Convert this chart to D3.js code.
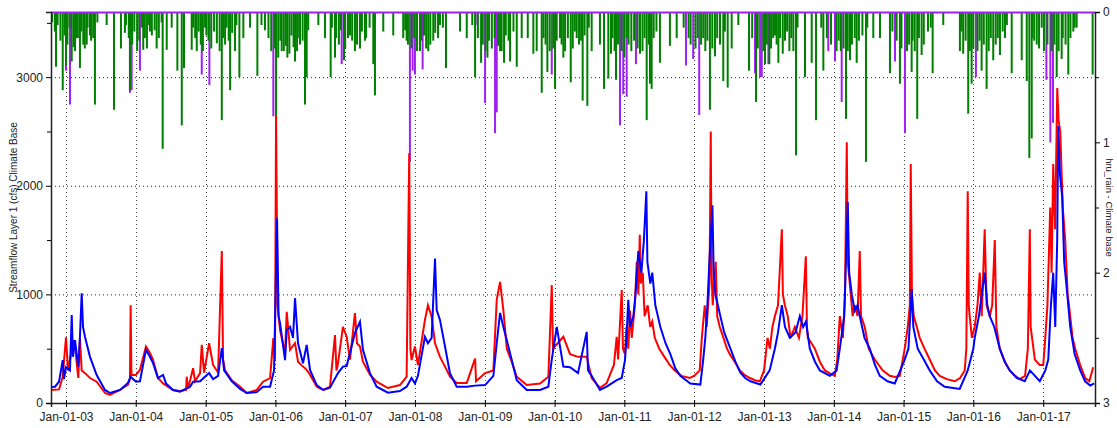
<!DOCTYPE html>
<html>
<head>
<meta charset="utf-8">
<script src="https://cdn.jsdelivr.net/npm/d3@7"></script>
<style>
  body { margin: 0; background: #fff; }
  svg text { font-family: "Liberation Sans", Arial, sans-serif; }
</style>
</head>
<body>
<div id="chart"></div>
<script>
// time is stored as decimal years
var xDomain = [2002.785, 2017.742];
var yearTicks = [2003, 2004, 2005, 2006, 2007, 2008, 2009, 2010, 2011, 2012, 2013, 2014, 2015, 2016, 2017];
var flowTicks = [0, 1000, 2000, 3000];
var rainTicks = [0, 1, 2, 3];

// Streamflow, red series
var redFlow = [
  [2002.785,120],[2002.90,125],[2002.953,240],[2003.0,605],[2003.03,300],[2003.082,490],[2003.10,580],
  [2003.129,520],[2003.176,230],[2003.2,595],[2003.225,300],[2003.272,275],[2003.344,230],[2003.44,196],
  [2003.559,92],[2003.63,75],[2003.774,120],[2003.888,170],[2003.917,220],[2003.927,900],[2003.938,260],
  [2004.003,258],[2004.06,305],[2004.146,520],[2004.203,460],[2004.246,400],[2004.318,230],[2004.39,180],
  [2004.533,120],[2004.633,110],[2004.719,120],[2004.729,242],[2004.748,130],[2004.82,320],[2004.848,200],
  [2004.92,275],[2004.944,535],[2004.977,280],[2005.049,550],[2005.106,350],[2005.178,280],[2005.231,1400],
  [2005.249,400],[2005.278,300],[2005.374,210],[2005.493,150],[2005.589,92],[2005.732,120],[2005.822,196],
  [2005.923,230],[2005.97,598],[2005.994,400],[2006.009,2650],[2006.03,900],[2006.066,670],[2006.138,460],
  [2006.162,840],[2006.209,490],[2006.281,550],[2006.324,380],[2006.395,335],[2006.448,305],[2006.496,260],
  [2006.592,150],[2006.686,120],[2006.782,150],[2006.854,625],[2006.875,300],[2006.897,365],[2006.968,700],
  [2007.021,610],[2007.069,400],[2007.14,828],[2007.169,550],[2007.212,520],[2007.255,380],[2007.355,260],
  [2007.451,196],[2007.613,138],[2007.785,165],[2007.881,242],[2007.918,2300],[2007.935,500],[2007.952,395],
  [2008.0,520],[2008.043,350],[2008.143,765],[2008.186,900],[2008.239,795],[2008.287,550],[2008.358,425],
  [2008.43,335],[2008.501,242],[2008.597,184],[2008.741,185],[2008.86,410],[2008.874,200],[2009.003,275],
  [2009.122,300],[2009.17,950],[2009.218,1115],[2009.265,855],[2009.314,500],[2009.385,380],[2009.457,242],
  [2009.60,165],[2009.791,180],[2009.91,242],[2009.959,1085],[2009.977,500],[2010.125,610],[2010.221,450],
  [2010.335,425],[2010.46,425],[2010.531,230],[2010.65,138],[2010.746,184],[2010.85,350],[2010.89,610],
  [2010.91,400],[2010.962,1040],[2010.98,500],[2011.009,450],[2011.03,700],[2011.056,500],[2011.08,850],
  [2011.106,600],[2011.15,900],[2011.178,1300],[2011.2,1000],[2011.221,1550],[2011.235,1100],[2011.264,1200],
  [2011.29,800],[2011.335,900],[2011.37,700],[2011.40,750],[2011.436,600],[2011.5,500],[2011.579,420],
  [2011.65,350],[2011.722,300],[2011.82,250],[2011.937,230],[2012.0,250],[2012.08,300],[2012.11,600],
  [2012.152,900],[2012.18,700],[2012.22,1100],[2012.238,2500],[2012.25,1200],[2012.266,900],[2012.309,1300],
  [2012.33,800],[2012.367,700],[2012.42,600],[2012.47,500],[2012.51,450],[2012.58,380],[2012.653,300],
  [2012.72,260],[2012.797,230],[2012.87,210],[2012.94,200],[2013.0,300],[2013.05,600],[2013.083,500],
  [2013.12,700],[2013.155,800],[2013.2,900],[2013.255,1600],[2013.27,1000],[2013.298,900],[2013.34,800],
  [2013.38,600],[2013.441,700],[2013.5,600],[2013.55,800],[2013.599,1350],[2013.615,700],[2013.628,600],
  [2013.68,550],[2013.728,500],[2013.8,380],[2013.871,300],[2013.95,270],[2014.014,250],[2014.05,400],
  [2014.086,800],[2014.13,600],[2014.16,1000],[2014.186,2400],[2014.2,1300],[2014.229,1100],[2014.27,800],
  [2014.301,900],[2014.34,800],[2014.372,1400],[2014.39,800],[2014.444,700],[2014.5,500],[2014.587,400],
  [2014.7,300],[2014.802,250],[2014.88,240],[2014.946,250],[2015.017,500],[2015.06,700],[2015.09,900],
  [2015.103,2200],[2015.12,1000],[2015.146,800],[2015.19,700],[2015.232,600],[2015.3,500],[2015.375,400],
  [2015.45,300],[2015.519,250],[2015.62,220],[2015.734,200],[2015.81,230],[2015.877,300],[2015.9,500],
  [2015.92,1950],[2015.935,900],[2015.948,800],[2015.98,600],[2016.02,700],[2016.06,900],[2016.092,1200],
  [2016.12,800],[2016.163,1600],[2016.19,900],[2016.235,800],[2016.27,900],[2016.307,1500],[2016.33,700],
  [2016.378,500],[2016.45,380],[2016.521,300],[2016.6,250],[2016.665,220],[2016.74,250],[2016.78,500],
  [2016.808,1600],[2016.82,700],[2016.88,400],[2016.95,350],[2017.0,350],[2017.029,600],[2017.06,900],
  [2017.1,1800],[2017.12,1200],[2017.143,2200],[2017.17,1600],[2017.201,2900],[2017.22,2600],[2017.244,2500],
  [2017.28,1800],[2017.315,1500],[2017.35,1000],[2017.387,800],[2017.42,600],[2017.458,500],[2017.53,350],
  [2017.602,230],[2017.66,200],[2017.716,330]
];

// Streamflow, blue series
var blueFlow = [
  [2002.785,147],[2002.842,150],[2002.9,196],[2002.953,395],[2002.971,220],[2003.0,330],[2003.057,300],
  [2003.082,810],[2003.10,425],[2003.129,580],[2003.176,335],[2003.2,610],[2003.225,1010],[2003.244,700],
  [2003.272,610],[2003.344,425],[2003.44,258],[2003.559,120],[2003.63,92],[2003.774,120],[2003.888,184],
  [2003.927,242],[2004.003,196],[2004.06,200],[2004.146,490],[2004.203,425],[2004.246,370],[2004.318,230],
  [2004.39,258],[2004.433,180],[2004.533,120],[2004.633,104],[2004.777,150],[2004.82,196],[2004.92,200],
  [2005.049,275],[2005.106,220],[2005.178,250],[2005.231,505],[2005.264,300],[2005.374,200],[2005.493,130],
  [2005.589,92],[2005.732,100],[2005.822,150],[2005.923,150],[2005.98,300],[2006.023,1700],[2006.045,800],
  [2006.066,735],[2006.138,395],[2006.162,670],[2006.209,700],[2006.252,600],[2006.281,965],[2006.324,550],
  [2006.395,365],[2006.448,535],[2006.496,305],[2006.592,165],[2006.686,120],[2006.782,140],[2006.897,275],
  [2006.968,335],[2007.021,340],[2007.14,645],[2007.212,748],[2007.255,490],[2007.355,275],[2007.451,150],
  [2007.613,95],[2007.785,110],[2007.881,150],[2007.952,230],[2008.0,180],[2008.043,250],[2008.143,610],
  [2008.186,550],[2008.239,600],[2008.287,1330],[2008.311,855],[2008.358,765],[2008.43,520],[2008.501,275],
  [2008.597,150],[2008.741,150],[2008.86,160],[2009.003,165],[2009.122,250],[2009.17,550],[2009.218,830],
  [2009.265,700],[2009.314,580],[2009.385,395],[2009.457,210],[2009.60,120],[2009.791,120],[2009.91,150],
  [2009.959,400],[2010.031,700],[2010.125,335],[2010.221,330],[2010.335,275],[2010.46,655],[2010.479,300],
  [2010.531,250],[2010.65,120],[2010.746,150],[2010.89,210],[2010.962,230],[2011.009,395],[2011.03,600],
  [2011.056,950],[2011.08,700],[2011.129,800],[2011.16,1000],[2011.2,1400],[2011.244,1200],[2011.28,1500],
  [2011.315,1950],[2011.33,1300],[2011.372,1100],[2011.40,1200],[2011.444,900],[2011.48,800],[2011.516,700],
  [2011.59,550],[2011.659,450],[2011.73,320],[2011.802,250],[2011.946,180],[2012.089,170],[2012.13,400],
  [2012.16,600],[2012.19,900],[2012.218,1300],[2012.261,1820],[2012.28,1200],[2012.304,1000],[2012.34,900],
  [2012.375,800],[2012.43,650],[2012.519,500],[2012.59,380],[2012.662,280],[2012.73,230],[2012.805,200],
  [2012.948,170],[2013.08,300],[2013.155,500],[2013.2,650],[2013.255,900],[2013.3,700],[2013.37,600],
  [2013.45,650],[2013.513,800],[2013.56,700],[2013.6,750],[2013.656,500],[2013.73,380],[2013.8,300],
  [2013.943,250],[2014.04,300],[2014.086,500],[2014.15,800],[2014.2,1850],[2014.22,1200],[2014.258,1000],
  [2014.3,850],[2014.34,900],[2014.372,800],[2014.44,600],[2014.516,500],[2014.59,350],[2014.659,250],
  [2014.77,200],[2014.874,180],[2015.017,400],[2015.07,500],[2015.117,1050],[2015.14,700],[2015.203,500],
  [2015.29,400],[2015.375,300],[2015.48,200],[2015.59,150],[2015.805,130],[2015.92,300],[2016.0,500],
  [2016.02,600],[2016.08,800],[2016.163,1200],[2016.2,900],[2016.235,800],[2016.3,700],[2016.378,500],
  [2016.45,380],[2016.521,300],[2016.62,230],[2016.736,200],[2016.81,300],[2016.951,200],[2017.03,300],
  [2017.072,400],[2017.11,900],[2017.143,1200],[2017.172,700],[2017.2,1500],[2017.215,2550],[2017.24,2100],
  [2017.272,1900],[2017.3,1300],[2017.33,1100],[2017.387,700],[2017.45,450],[2017.53,300],[2017.6,200],
  [2017.673,160],[2017.73,180]
];

// hru_rain, green series (bars hanging from the top): the deeper single bars
var greenRain = [
  [2002.857,0.42],[2002.953,0.60],[2003.0,0.41],[2003.082,0.38],[2003.153,0.2],[2003.2,0.43],[2003.248,0.25],
  [2003.297,0.25],[2003.344,0.18],[2003.415,0.71],[2003.583,0.1],[2003.688,0.75],[2003.788,0.28],[2003.845,0.16],
  [2003.917,0.60],[2004.107,0.29],[2004.203,0.15],[2004.299,0.28],[2004.385,1.05],[2004.443,0.29],[2004.514,0.12],
  [2004.595,0.45],[2004.658,0.87],[2004.69,0.43],[2004.80,0.29],[2004.872,0.3],[2004.991,0.12],[2005.231,0.83],
  [2005.278,0.25],[2005.35,0.6],[2005.421,0.3],[2005.483,0.5],[2005.54,0.2],[2005.636,0.12],[2005.741,0.49],
  [2006.009,0.82],[2006.09,0.3],[2006.171,0.35],[2006.281,0.38],[2006.352,0.25],[2006.424,0.71],[2006.448,0.5],
  [2006.615,0.1],[2006.711,0.2],[2006.792,0.5],[2006.854,0.35],[2006.983,0.37],[2007.069,0.18],[2007.14,0.3],
  [2007.212,0.28],[2007.284,0.22],[2007.403,0.4],[2007.427,0.64],[2007.546,0.15],[2007.689,0.18],[2007.832,0.2],
  [2007.881,0.22],[2008.072,0.3],[2008.19,0.3],[2008.262,0.22],[2008.358,0.1],[2008.444,0.43],[2008.645,0.15],
  [2008.741,0.2],[2008.86,0.5],[2008.946,0.39],[2009.037,0.35],[2009.218,0.3],[2009.275,0.39],[2009.361,0.38],
  [2009.457,0.42],[2009.528,0.2],[2009.615,0.2],[2009.695,0.32],[2009.743,0.3],[2009.815,0.62],[2009.896,0.46],
  [2010.006,0.59],[2010.077,0.2],[2010.125,0.35],[2010.231,0.54],[2010.317,0.2],[2010.402,0.68],[2010.469,0.72],
  [2010.531,0.3],[2010.65,0.25],[2010.708,0.59],[2010.77,0.51],[2010.808,0.32],[2010.88,0.52],[2011.033,0.2],
  [2011.224,0.32],[2011.32,0.83],[2011.367,0.55],[2011.391,0.59],[2011.51,0.39],[2011.653,0.26],[2011.75,0.2],
  [2012.131,0.2],[2012.226,0.75],[2012.298,0.34],[2012.417,0.53],[2012.48,0.58],[2012.537,0.28],[2012.632,0.1],
  [2012.785,0.45],[2012.885,0.69],[2013.014,0.4],[2013.076,0.4],[2013.157,0.18],[2013.205,0.39],[2013.268,0.32],
  [2013.363,0.3],[2013.42,0.3],[2013.458,1.1],[2013.587,0.5],[2013.683,0.39],[2013.745,0.83],[2013.85,0.45],
  [2014.175,0.82],[2014.232,0.37],[2014.328,0.39],[2014.461,1.15],[2014.566,0.2],[2014.662,0.2],[2014.805,0.47],
  [2014.948,0.55],[2015.116,0.46],[2015.196,0.82],[2015.259,0.33],[2015.417,0.47],[2015.569,0.1],[2015.808,0.3],
  [2015.855,0.32],[2015.927,0.78],[2015.976,0.55],[2016.119,0.45],[2016.19,0.59],[2016.285,0.37],[2016.381,0.33],
  [2016.453,0.2],[2016.549,0.47],[2016.692,0.37],[2016.764,0.53],[2016.801,1.12],[2016.835,0.97],[2016.907,0.25],
  [2016.978,0.12],[2017.193,0.5],[2017.264,0.36],[2017.359,0.48],[2017.431,0.15],[2017.479,0.12],[2017.708,0.48]
];

// hru_rain, green series: the shallow dense bars of each wet season
var greenRainWet = [
  [2002.80,0.08],[2002.84,0.15],[2002.88,0.1],[2002.92,0.22],[2002.98,0.18],[2003.02,0.25],[2003.05,0.12],
  [2003.11,0.27],[2003.13,0.3],[2003.17,0.2],[2003.22,0.15],[2003.27,0.28],[2003.31,0.12],[2003.36,0.22],
  [2003.39,0.2],[2003.45,0.08],
  [2003.86,0.1],[2003.90,0.2],[2003.95,0.25],[2003.98,0.15],[2004.02,0.3],[2004.05,0.22],[2004.09,0.12],
  [2004.13,0.2],[2004.16,0.28],[2004.19,0.1],[2004.23,0.18],[2004.27,0.14],[2004.33,0.2],[2004.37,0.08],
  [2004.82,0.12],[2004.85,0.2],[2004.9,0.15],[2004.93,0.25],[2004.96,0.3],[2005.01,0.18],[2005.04,0.22],
  [2005.08,0.28],[2005.12,0.15],[2005.16,0.24],[2005.2,0.3],[2005.25,0.2],[2005.3,0.12],[2005.33,0.22],
  [2005.38,0.16],[2005.44,0.1],
  [2005.80,0.1],[2005.85,0.14],[2005.9,0.2],[2005.94,0.3],[2005.99,0.28],[2006.04,0.35],[2006.07,0.22],
  [2006.12,0.3],[2006.15,0.26],[2006.2,0.32],[2006.23,0.18],[2006.26,0.27],[2006.31,0.3],[2006.34,0.2],
  [2006.39,0.22],[2006.47,0.14],
  [2006.81,0.12],[2006.87,0.2],[2006.91,0.25],[2006.94,0.14],[2007.0,0.28],[2007.04,0.2],[2007.1,0.22],
  [2007.17,0.25],[2007.24,0.15],[2007.3,0.2],[2007.35,0.12],
  [2007.86,0.14],[2007.9,0.25],[2007.95,0.28],[2007.99,0.2],[2008.03,0.3],[2008.09,0.22],[2008.13,0.18],
  [2008.16,0.28],[2008.22,0.25],[2008.29,0.16],[2008.33,0.2],[2008.4,0.12],
  [2008.82,0.1],[2008.9,0.2],[2008.97,0.25],[2009.01,0.3],[2009.06,0.22],[2009.1,0.28],[2009.14,0.2],
  [2009.19,0.26],[2009.24,0.3],[2009.3,0.18],[2009.34,0.22],[2009.41,0.15],
  [2009.84,0.2],[2009.87,0.25],[2009.93,0.3],[2009.98,0.28],[2010.03,0.22],[2010.1,0.25],[2010.15,0.3],
  [2010.19,0.2],[2010.26,0.28],[2010.29,0.15],[2010.35,0.25],[2010.38,0.22],[2010.43,0.18],[2010.49,0.12],
  [2010.83,0.2],[2010.86,0.3],[2010.91,0.25],[2010.96,0.3],[2011.0,0.35],[2011.06,0.25],[2011.1,0.3],
  [2011.14,0.22],[2011.19,0.28],[2011.26,0.3],[2011.29,0.2],[2011.35,0.25],[2011.42,0.2],[2011.46,0.15],
  [2011.85,0.12],[2011.92,0.2],[2011.95,0.25],[2012.02,0.28],[2012.05,0.2],[2012.1,0.25],[2012.16,0.3],
  [2012.19,0.22],[2012.26,0.28],[2012.33,0.2],[2012.37,0.25],[2012.44,0.15],
  [2012.83,0.2],[2012.91,0.28],[2012.99,0.3],[2013.04,0.25],[2013.1,0.28],[2013.13,0.2],[2013.18,0.25],
  [2013.23,0.2],[2013.3,0.22],[2013.33,0.15],[2013.39,0.2],[2013.48,0.12],
  [2013.82,0.12],[2013.9,0.2],[2013.96,0.25],[2014.04,0.3],[2014.07,0.22],[2014.1,0.3],[2014.14,0.28],
  [2014.2,0.3],[2014.26,0.25],[2014.3,0.2],[2014.36,0.22],[2014.41,0.18],[2014.48,0.12],
  [2014.84,0.15],[2014.9,0.22],[2014.97,0.28],[2015.05,0.3],[2015.08,0.25],[2015.13,0.22],[2015.16,0.3],
  [2015.22,0.2],[2015.29,0.25],[2015.35,0.15],[2015.39,0.12],
  [2015.83,0.15],[2015.89,0.22],[2015.95,0.3],[2016.0,0.28],[2016.06,0.3],[2016.09,0.22],[2016.15,0.25],
  [2016.22,0.3],[2016.25,0.2],[2016.32,0.25],[2016.35,0.2],[2016.42,0.15],[2016.48,0.1],
  [2016.84,0.2],[2016.87,0.22],[2016.94,0.28],[2017.01,0.3],[2017.06,0.25],[2017.12,0.3],[2017.16,0.25],
  [2017.22,0.3],[2017.28,0.2],[2017.32,0.25],[2017.39,0.2],[2017.45,0.12]
];

// hru_rain, purple series
var purpleRain = [
  [2003.0,0.45],[2003.057,0.71],[2003.917,0.62],[2003.941,0.6],[2004.06,0.45],[2004.944,0.48],[2005.053,0.56],
  [2005.97,0.80],[2006.95,0.4],[2007.928,1.15],[2007.967,0.45],[2008.0,0.48],[2008.11,0.44],[2008.893,0.1],
  [2009.003,0.7],[2009.146,0.93],[2009.17,0.77],[2009.959,0.48],[2010.937,0.87],[2010.984,0.63],[2011.033,0.65],
  [2011.166,0.4],[2011.883,0.41],[2011.987,0.36],[2012.073,0.79],[2012.871,0.47],[2012.943,0.5],[2012.967,0.5],
  [2013.014,0.4],[2013.062,0.4],[2013.921,0.3],[2014.017,0.38],[2014.113,0.69],[2014.877,0.38],[2015.02,0.93],
  [2016.037,0.5],[2017.045,0.52],[2017.102,1.0],[2017.14,0.85]
];

var W = 1117, H = 428;
var margin = {top: 12, right: 22, bottom: 25, left: 51};
var width = W - margin.left - margin.right;
var height = H - margin.top - margin.bottom;

function toDate(t) {
  var y = Math.floor(t);
  var a = Date.UTC(y, 0, 1), b = Date.UTC(y + 1, 0, 1);
  return new Date(a + (t - y) * (b - a));
}

var x = d3.scaleUtc().domain(xDomain.map(toDate)).range([0, width]);
var yFlow = d3.scaleLinear().domain([0, 3600]).range([height, 0]);
var yRain = d3.scaleLinear().domain([0, 3]).range([0, height]);

var svg = d3.select("#chart").append("svg")
  .attr("width", W).attr("height", H);
var g = svg.append("g")
  .attr("transform", "translate(" + margin.left + "," + margin.top + ")");

// dotted grid
g.selectAll(".hgrid").data(flowTicks.slice(1)).enter()
  .append("line")
  .attr("x1", 0).attr("x2", width)
  .attr("y1", function(d){ return yFlow(d) + 0.5; })
  .attr("y2", function(d){ return yFlow(d) + 0.5; })
  .attr("stroke", "#222").attr("stroke-dasharray", "1,3");
g.selectAll(".vgrid").data(yearTicks).enter()
  .append("line")
  .attr("x1", function(d){ return Math.round(x(toDate(d))) + 0.5; })
  .attr("x2", function(d){ return Math.round(x(toDate(d))) + 0.5; })
  .attr("y1", 0).attr("y2", height)
  .attr("stroke", "#444").attr("stroke-dasharray", "1,3");

// rain bars
function bars(data, color) {
  g.append("g").selectAll("rect").data(data).enter()
    .append("rect")
    .attr("x", function(d){ return x(toDate(d[0])) - 1; })
    .attr("y", 0)
    .attr("width", 2)
    .attr("height", function(d){ return yRain(d[1]); })
    .attr("fill", color);
}
bars(purpleRain, "#a020f0");
bars(greenRain, "#008000");
bars(greenRainWet, "#008000");
g.append("line")
  .attr("x1", 0).attr("x2", width).attr("y1", 0.5).attr("y2", 0.5)
  .attr("stroke", "#a020f0").attr("stroke-width", 2);

// flow lines
var line = d3.line()
  .x(function(d){ return x(toDate(d[0])); })
  .y(function(d){ return yFlow(d[1]); });
g.append("path").datum(redFlow).attr("d", line)
  .attr("fill", "none").attr("stroke", "#ff0000").attr("stroke-width", 2);
g.append("path").datum(blueFlow).attr("d", line)
  .attr("fill", "none").attr("stroke", "#0000ff").attr("stroke-width", 2);

// axes
var leftAxis = d3.axisLeft(yFlow).tickValues(flowTicks).tickSize(5).tickFormat(d3.format("d"));
var leftMinor = d3.axisLeft(yFlow).tickValues([500, 1500, 2500, 3500]).tickSize(4).tickFormat("");
var la = g.append("g").call(leftAxis);
g.append("g").call(leftMinor).select(".domain").remove();

var rightAxis = d3.axisRight(yRain).tickValues(rainTicks).tickSize(5).tickFormat(d3.format("d"));
var rightMinor = d3.axisRight(yRain).tickValues([0.5, 1.5, 2.5]).tickSize(4).tickFormat("");
var ra = g.append("g").attr("transform", "translate(" + width + ",0)").call(rightAxis);
g.append("g").attr("transform", "translate(" + width + ",0)").call(rightMinor).select(".domain").remove();

var bottomAxis = d3.axisBottom(x).tickValues(yearTicks.map(toDate)).tickSize(4)
  .tickFormat(d3.utcFormat("%b-%d-%y"));
var ba = g.append("g").attr("transform", "translate(0," + height + ")").call(bottomAxis);
ba.selectAll(".tick line").attr("y1", -3);

[la, ra, ba].forEach(function(a){
  a.selectAll("text").attr("font-size", 12).attr("fill", "#222");
  a.select(".domain").attr("stroke", "#222").attr("stroke-width", 1.5);
});
ba.selectAll("text").attr("dy", "0.9em");

svg.append("text")
  .attr("transform", "translate(17," + (margin.top + height / 2) + ") rotate(-90)")
  .attr("text-anchor", "middle").attr("font-size", 10).attr("fill", "#222")
  .text("Streamflow Layer 1 (cfs) Climate Base");
svg.append("text")
  .attr("transform", "translate(1106," + (margin.top + height / 2) + ") rotate(90)")
  .attr("text-anchor", "middle").attr("font-size", 9.5).attr("fill", "#222")
  .text("hru_rain - Climate base");
</script>
</body>
</html>
